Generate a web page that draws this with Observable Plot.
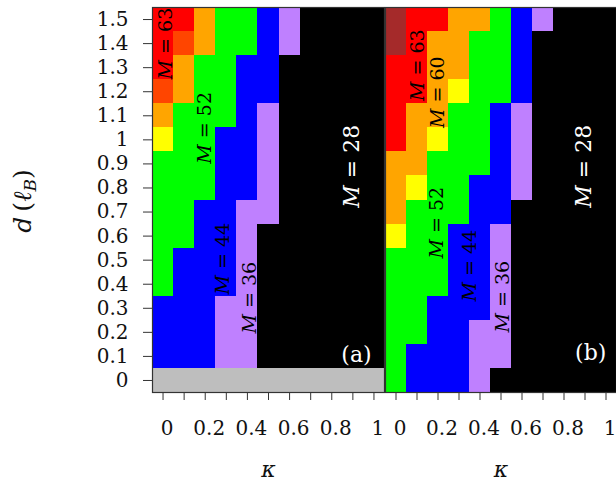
<!DOCTYPE html>
<html><head><meta charset="utf-8">
<script src="https://cdn.jsdelivr.net/npm/d3@7"></script>
<script src="https://cdn.jsdelivr.net/npm/@observablehq/plot@0.6"></script>
<style>
body{margin:0;background:#fff;overflow:hidden;}
#row{display:flex;align-items:flex-start;}
svg{display:block;}
</style></head><body><div id="row"></div>
<script>
// kappa columns and d rows (top row first)
const kappa = [0, 0.1, 0.2, 0.3, 0.4, 0.5, 0.6, 0.7, 0.8, 0.9, 1];
const dValues = [1.5, 1.4, 1.3, 1.2, 1.1, 1, 0.9, 0.8, 0.7, 0.6, 0.5, 0.4, 0.3, 0.2, 0.1, 0];
const xTicks = [0, 0.1, 0.2, 0.3, 0.4, 0.5, 0.6, 0.7, 0.8, 0.9, 1];
const xTickLabels = [0, 0.2, 0.4, 0.6, 0.8, 1];
const yTicks = [0, 0.1, 0.2, 0.3, 0.4, 0.5, 0.6, 0.7, 0.8, 0.9, 1, 1.1, 1.2, 1.3, 1.4, 1.5];

// M values per cell (0 = no data)
const mPanelA = [
  [63,63,60,52,52,44,36,28,28,28,28],
  [63,62,60,52,52,44,36,28,28,28,28],
  [63,60,52,52,44,44,28,28,28,28,28],
  [62,60,52,52,44,44,28,28,28,28,28],
  [60,52,52,52,44,36,28,28,28,28,28],
  [56,52,52,44,44,36,28,28,28,28,28],
  [52,52,52,44,44,36,28,28,28,28,28],
  [52,52,52,44,44,36,28,28,28,28,28],
  [52,52,44,44,36,36,28,28,28,28,28],
  [52,52,44,44,36,28,28,28,28,28,28],
  [52,44,44,44,36,28,28,28,28,28,28],
  [52,44,44,44,36,28,28,28,28,28,28],
  [44,44,44,36,36,28,28,28,28,28,28],
  [44,44,44,36,36,28,28,28,28,28,28],
  [44,44,44,36,36,28,28,28,28,28,28],
  [0,0,0,0,0,0,0,0,0,0,0]
];
const mPanelB = [
  [64,63,63,60,60,52,44,36,28,28,28],
  [64,63,60,60,52,52,44,28,28,28,28],
  [63,63,60,60,52,52,44,28,28,28,28],
  [63,63,60,56,52,52,44,28,28,28,28],
  [63,60,60,52,52,44,36,28,28,28,28],
  [63,60,56,52,52,44,36,28,28,28,28],
  [60,60,52,52,52,44,36,28,28,28,28],
  [60,56,52,52,44,44,36,28,28,28,28],
  [60,52,52,52,44,44,28,28,28,28,28],
  [56,52,52,44,44,36,28,28,28,28,28],
  [52,52,52,44,44,36,28,28,28,28,28],
  [52,52,52,44,44,36,28,28,28,28,28],
  [52,52,44,44,44,36,28,28,28,28,28],
  [52,52,44,44,36,36,28,28,28,28,28],
  [52,44,44,44,36,36,28,28,28,28,28],
  [52,44,44,44,36,28,28,28,28,28,28]
];

const mLevels = [0, 28, 36, 44, 52, 56, 60, 62, 63, 64];
const mColors = ["#bebebe","#000000","#bf80ff","#0000ff","#00ff00","#ffff00","#ffa500","#ff4500","#ff0000","#a52a2a"];

// annotations (data coordinates)
const labelsA = [
  {t: "M = 63", k: 0.012, d: 1.40},
  {t: "M = 52", k: 0.20, d: 1.05},
  {t: "M = 44", k: 0.282, d: 0.506},
  {t: "M = 36", k: 0.41, d: 0.344}
];
const bigA = [{t: "M = 28", k: 0.894, d: 0.89}];
const tagA = [{t: "(a)", k: 0.917, d: 0.106}];
const labelsB = [
  {t: "M = 63", k: 0.106, d: 1.31},
  {t: "M = 60", k: 0.201, d: 1.198},
  {t: "M = 52", k: 0.197, d: 0.656},
  {t: "M = 44", k: 0.353, d: 0.477},
  {t: "M = 36", k: 0.51, d: 0.348}
];
const bigB = [{t: "M = 28", k: 0.894, d: 0.89}];
const tagB = [{t: "(b)", k: 0.927, d: 0.115}];

function panel(M, labels, big, tag, withY) {
  const cells = dValues.flatMap((d, i) => kappa.map((k, j) => ({kappa: k, d, M: M[i][j]})));
  const marks = [
    Plot.rect(cells, {
      x1: r => r.kappa - 0.05, x2: r => r.kappa + 0.05,
      y1: r => r.d - 0.05, y2: r => r.d + 0.05,
      fill: "M", shapeRendering: "crispEdges"
    }),
    Plot.frame({stroke: "#333", strokeWidth: 1.2}),
    Plot.axisX({ticks: xTicks, tickFormat: () => "", tickSize: 8, stroke: "#333", label: null}),
    Plot.axisX({ticks: xTickLabels, tickFormat: d => String(d), tickSize: 0, tickPadding: 28, dx: 4, label: null, fill: "#111"}),
    Plot.text([0], {frameAnchor: "bottom", dy: 84, text: () => "κ", fontStyle: "italic", fontSize: 22, fill: "#111"}),
    Plot.text(labels, {x: "k", y: "d", text: "t", rotate: -90, fill: "black", fontSize: 19}),
    Plot.text(big, {x: "k", y: "d", text: "t", rotate: -90, fill: "white", fontSize: 22}),
    Plot.text(tag, {x: "k", y: "d", text: "t", fill: "white", fontSize: 22})
  ];
  if (withY) {
    marks.push(Plot.axisY({ticks: yTicks, tickFormat: d => String(d), tickSize: 9, tickPadding: 15, stroke: "#333", fill: "#111", label: null}));
  } else {
    marks.push(Plot.axisY({ticks: [], label: null}));
  }
  const svg = Plot.plot({
    width: withY ? 385 : 231,
    height: 483,
    marginTop: 7,
    marginBottom: 91,
    marginLeft: withY ? 152 : 0,
    marginRight: withY ? 1 : 0,
    x: {domain: [-0.05, 1.05]},
    y: {domain: [-0.05, 1.55]},
    color: {type: "ordinal", domain: mLevels, range: mColors},
    style: {fontFamily: "'DejaVu Serif', serif", fontSize: "20px", background: "white", overflow: "visible"},
    marks
  });
  // italic M in "M = nn" labels
  d3.select(svg).selectAll("text").each(function() {
    const s = this.textContent;
    if (/^M = /.test(s) && this.childNodes.length === 1) {
      const rest = s.slice(1);
      this.textContent = "";
      d3.select(this).append("tspan").attr("font-style", "italic").text("M");
      d3.select(this).append("tspan").text(rest);
    }
  });
  if (withY) {
    const t = d3.select(svg).append("text")
      .attr("transform", "translate(31,201) rotate(-90)")
      .attr("text-anchor", "middle")
      .attr("font-family", "'DejaVu Serif', serif")
      .attr("font-size", 25)
      .attr("fill", "#111");
    t.append("tspan").attr("font-style", "italic").text("d");
    t.append("tspan").text("\u2009(");
    t.append("tspan").attr("font-style", "italic").text("ℓ");
    t.append("tspan").attr("font-style", "italic").attr("font-size", 17).attr("dy", 5).text("B");
    t.append("tspan").attr("dy", -5).text(")");
  }
  return svg;
}

const row = document.getElementById("row");
row.appendChild(panel(mPanelA, labelsA, bigA, tagA, true));
row.appendChild(panel(mPanelB, labelsB, bigB, tagB, false));
</script>
</body></html>
